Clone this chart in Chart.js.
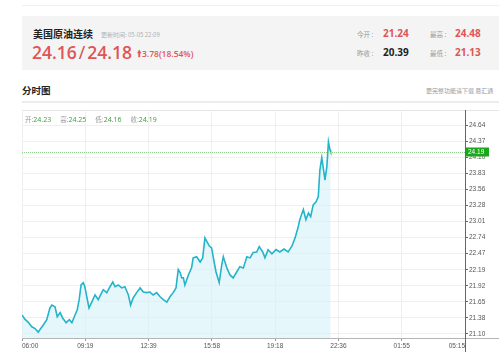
<!DOCTYPE html>
<html lang="zh-CN">
<head>
  <meta charset="UTF-8">
  <title>美国原油连续 分时图</title>
  <script src="https://cdn.jsdelivr.net/npm/chart.js@4.4.0/dist/chart.umd.min.js"></script>
  <style>
    body {
      margin: 0;
      width: 499px;
      height: 354px;
      background: #fff;
      position: relative;
      overflow: hidden;
      font-family: "Open Sans", "Noto Sans CJK SC", sans-serif;
    }
    .abs { position: absolute; white-space: nowrap; }
    .topline { left: 22px; right: 0; top: 5px; height: 1px; background: #f0f0f0; }
    .quote { left: 22px; right: 0; top: 16px; height: 54px; background: #f4f4f4; }
    .name { left: 33px; top: 26px; font: 10px "Noto Sans CJK SC"; font-weight: 700; color: #222; }
    .upd { left: 101px; top: 30px; font: 6px "Noto Sans CJK SC"; color: #b0b0b0; }
    .price { left: 32px; top: 40px; font: 600 17.5px "Open Sans"; color: #e05555; }
    .price .sl { color: #c94a4a; font-weight: 400; margin: 0 2px; }
    .chg { left: 137px; top: 48px; font: 600 8.5px "Open Sans"; color: #e05555; }
    .lbl { font: 6.5px "Noto Sans CJK SC"; color: #999; }
    .val { font: 700 10px "Open Sans"; color: #e05555; }
    .val.dark { color: #222; }
    .sec { left: 22px; top: 83px; font: 700 9.5px "Noto Sans CJK SC"; color: #222; }
    .secline { left: 22px; right: 0; top: 101px; height: 2px; background: #ececec; }
    .more { left: 426px; top: 86px; font: 6px "Noto Sans CJK SC"; color: #999; }
    .box { left: 22px; right: 0; top: 110px; height: 1px; background: #e6e6e6; }
    .ohlc { left: 25px; top: 114px; font: 6.5px "Noto Sans CJK SC"; color: #999; display: flex; gap: 9px; }
    .ohlc b { font-weight: 400; color: #3a9e3a; font-family: "Open Sans"; font-size: 7px; }
    #chart { position: absolute; left: 0; top: 100px; }
  </style>
</head>
<body>
  <div class="abs topline"></div>
  <div class="abs quote"></div>
  <div class="abs name">美国原油连续</div>
  <div class="abs upd">更新时间: 05-05 22:09</div>
  <div class="abs price">24.16<span class="sl">/</span>24.18</div>
  <div class="abs chg">&#129049;3.78(18.54%)</div>

  <div class="abs lbl" style="left:357px;top:29px">今开 :</div>
  <div class="abs val" style="left:383px;top:26px">21.24</div>
  <div class="abs lbl" style="left:430px;top:29px">最高 :</div>
  <div class="abs val" style="left:455px;top:26px">24.48</div>
  <div class="abs lbl" style="left:357px;top:48px">昨收 :</div>
  <div class="abs val dark" style="left:383px;top:45px">20.39</div>
  <div class="abs lbl" style="left:430px;top:48px">最低 :</div>
  <div class="abs val" style="left:455px;top:45px">21.13</div>

  <div class="abs sec">分时图</div>
  <div class="abs more">更完整功能请下载 易汇通</div>
  <div class="abs secline"></div>
  <div class="abs box"></div>

  <canvas id="chart" width="499" height="254"></canvas>
  <div class="abs ohlc" id="ohlc"></div>

<script>
  // minutes after 06:00 and the price at that moment
  const minutes = [0, 9, 19, 31, 41, 51, 59, 67, 78, 88, 94, 104, 111, 120, 128, 139, 149, 157, 167, 174,
    180, 186, 193, 198, 204, 211, 219, 230, 240, 251, 256, 267, 277, 286, 293, 303, 314, 324, 335, 342,
    350, 361, 372, 382, 393, 403, 413, 424, 435, 445, 456, 466, 476, 485, 492, 498, 503, 508, 513, 524,
    534, 539, 550, 561, 569, 576, 584, 590, 597, 605, 611, 621, 629, 634, 645, 655, 665, 676, 686, 697,
    708, 718, 728, 739, 747, 758, 765, 775, 787, 800, 812, 825, 838, 850, 860, 869, 875, 886, 894, 902,
    909, 917, 926, 933, 938, 944, 951, 954, 960, 965, 970, 972];
  const prices = [21.42, 21.35, 21.30, 21.22, 21.19, 21.13, 21.19, 21.25, 21.34, 21.54, 21.59, 21.56, 21.39, 21.46, 21.37, 21.29, 21.34, 21.29, 21.42, 21.51,
    21.68, 21.93, 21.97, 21.90, 21.73, 21.54, 21.63, 21.76, 21.68, 21.80, 21.85, 21.80, 21.90, 21.98, 21.90, 21.93, 21.88, 21.90, 21.76, 21.59,
    21.71, 21.80, 21.88, 21.81, 21.80, 21.81, 21.76, 21.80, 21.73, 21.68, 21.64, 21.73, 21.80, 21.88, 22.19, 22.14, 22.05, 22.05, 21.93, 22.10,
    22.22, 22.39, 22.41, 22.32, 22.39, 22.73, 22.65, 22.59, 22.56, 22.32, 22.15, 21.97, 22.27, 22.41, 22.22, 22.10, 22.05, 22.15, 22.24, 22.22,
    22.41, 22.39, 22.48, 22.49, 22.58, 22.49, 22.39, 22.53, 22.46, 22.53, 22.49, 22.54, 22.49, 22.59, 22.73, 22.90, 23.04, 23.21, 23.04, 23.15,
    23.09, 23.29, 23.34, 23.43, 23.88, 24.09, 23.83, 23.71, 23.94, 24.36, 24.22, 24.19];

  const sessionMinutes = 1395; // 06:00 -> 05:15 next day
  const xTickLabels = ['06:00', '09:19', '12:39', '15:58', '19:18', '22:36', '01:55', '05:15'];
  const yTickLabels = ['21.10', '21.38', '21.65', '21.92', '22.19', '22.47', '22.74',
    '23.01', '23.28', '23.56', '23.83', '24.10', '24.37', '24.64'];
  const yMin = 21.03, yMax = 24.90;

  const ohlcNames = ['开', '高', '低', '收'];
  const ohlcValues = ['24.23', '24.25', '24.16', '24.19'];
  document.getElementById('ohlc').innerHTML =
    ohlcNames.map((n, i) => `<span>${n}:<b>${ohlcValues[i]}</b></span>`).join('');

  const lastPrice = prices[prices.length - 1];
  const yFirst = parseFloat(yTickLabels[0]);
  const yStep = (parseFloat(yTickLabels[yTickLabels.length - 1]) - yFirst) / (yTickLabels.length - 1);

  // last price line, axis lines and the green price tag
  const overlay = {
    id: 'overlay',
    afterDraw(chart) {
      const { ctx, chartArea: a, scales: { y } } = chart;
      const py = Math.round(y.getPixelForValue(lastPrice)) + 0.5;
      ctx.save();
      ctx.lineWidth = 1;
      ctx.strokeStyle = '#8fd08f';
      ctx.setLineDash([1, 1]);
      ctx.beginPath();
      ctx.moveTo(a.left, py);
      ctx.lineTo(a.right, py);
      ctx.stroke();
      ctx.setLineDash([]);

      ctx.strokeStyle = '#b5b5b5';
      ctx.beginPath();
      ctx.moveTo(a.left, Math.round(a.bottom) + 0.5);
      ctx.lineTo(chart.width, Math.round(a.bottom) + 0.5);
      ctx.stroke();

      ctx.strokeStyle = '#666';
      ctx.beginPath();
      ctx.moveTo(Math.round(a.right) + 0.5, a.top);
      ctx.lineTo(Math.round(a.right) + 0.5, chart.height - 2);
      ctx.stroke();

      ctx.fillStyle = '#1ea51e';
      ctx.fillRect(a.right + 1, py - 5, 23, 9);
      ctx.fillStyle = '#fff';
      ctx.font = '6.5px "Liberation Sans"';
      ctx.textBaseline = 'middle';
      ctx.fillText(lastPrice.toFixed(2), a.right + 3, py);
      ctx.restore();
    }
  };

  new Chart(document.getElementById('chart'), {
    type: 'line',
    data: {
      datasets: [{
        data: minutes.map((m, i) => ({ x: m, y: prices[i] })),
        borderColor: '#25b4c9',
        borderWidth: 1.6,
        backgroundColor: 'rgba(214, 242, 250, 0.6)',
        fill: 'start',
        pointRadius: 0,
        tension: 0
      }]
    },
    options: {
      responsive: false,
      animation: false,
      layout: { padding: { left: 22, top: 10, right: 0, bottom: 0 } },
      plugins: { legend: { display: false }, tooltip: { enabled: false } },
      scales: {
        x: {
          type: 'linear',
          min: 0,
          max: sessionMinutes,
          afterBuildTicks: s => {
            s.ticks = xTickLabels.map((l, i) => ({ value: i * sessionMinutes / (xTickLabels.length - 1) }));
          },
          afterFit: s => { s.height = 16; },
          border: { display: false },
          grid: { color: '#efefef', tickColor: '#999', tickLength: 3 },
          ticks: {
            autoSkip: false,
            maxRotation: 0,
            align: 'inner',
            padding: 1,
            color: '#555',
            font: { family: 'Liberation Sans', size: 6.5 },
            callback: (v, i) => xTickLabels[i]
          }
        },
        y: {
          position: 'right',
          min: yMin,
          max: yMax,
          afterBuildTicks: s => {
            s.ticks = yTickLabels.map((l, i) => ({ value: yFirst + i * yStep }));
          },
          afterFit: s => { s.width = 34; },
          border: { display: false },
          grid: { color: '#efefef', tickColor: '#666', tickLength: 3 },
          ticks: {
            autoSkip: false,
            padding: 1,
            color: '#555',
            font: { family: 'Liberation Sans', size: 6.5 },
            callback: (v, i) => yTickLabels[i]
          }
        }
      }
    },
    plugins: [overlay]
  });
</script>
</body>
</html>
